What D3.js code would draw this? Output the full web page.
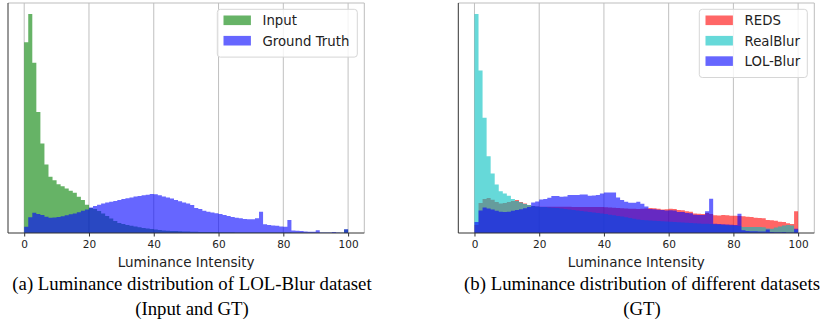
<!DOCTYPE html>
<html>
<head>
<meta charset="UTF-8">
<title>Luminance histograms</title>
<style>
  body { margin: 0; background: #fff; }
  svg text { font-family: "DejaVu Sans", sans-serif; }
  .cap { font-family: "Liberation Serif", "Times New Roman", serif; }
</style>
</head>
<body>
<div id="app"></div>
<script src="https://d3js.org/d3.v7.min.js"></script>
<script>
// 80 bins over 0..100 (bin width 1.25), heights in arbitrary units
const binCount = 80
const xTicks = [0, 20, 40, 60, 80, 100]

const inputLOL = [191.3, 219.7, 170.7, 121.3, 89.7, 68.7, 56.3, 53, 49, 47, 44.7, 42.3, 40.3, 36.3, 33, 28.3,
  25, 24, 22, 19.5, 17, 14.5, 12, 10, 9, 8, 7.3, 6.5, 5.8, 5, 4.5, 4, 3.5, 3, 2.6, 2.3, 2.1, 1.9, 1.7, 1.5,
  1.4, 1.3, 1.2, 1.1, 1.0, 1.0, 0.9, 0.9, 0.8, 0.8, 0.7, 0.7, 0.6, 0.6, 0.6, 0.5, 0.5, 0.5, 0.6, 0.4,
  0.4, 0.4, 0.4, 0.4, 0.4, 0.5, 0.3, 0.3, 0.3, 0.3, 0.3, 0.3, 0.3, 0.3, 0.3, 0.3, 0.3, 0.3, 0.3, 3.5]

const gtLOL = [6.3, 15.7, 20.3, 19, 18, 16.3, 15.2, 15.5, 16, 16.7, 17.7, 18.7, 19.5, 20.7, 22.3, 23.5,
  25.7, 27, 28.3, 29.5, 30.5, 31.3, 32.2, 33, 34, 34.8, 35.5, 36.5, 37.2, 37.8, 38.3, 39, 38.8, 37.8, 36.5, 35.7, 34.5, 33, 31.8, 30.5,
  29.7, 28, 25, 24, 22.3, 21.3, 20.5, 19.7, 19, 18, 17, 16, 15.3, 14.7, 14, 13.7, 13.7, 14.7, 21.3, 8.7,
  8, 7.5, 7.2, 6.5, 6.3, 13, 2.5, 2.3, 2, 1.5, 1.3, 1.3, 2.7, 0.5, 0.4, 0.4, 1, 0.4, 0.3, 3.7]

const reds = [8, 30, 34, 35, 33.3, 31, 29.5, 30, 31, 32, 33, 31, 29.5, 28, 27, 26.5,
  26.3, 26.3, 26.4, 26.4, 26.4, 26.3, 26.3, 26.3, 26.2, 26.2, 26.2, 26.1, 26.1, 26, 26, 26, 25.8, 25.5, 25.3, 25, 24.8, 24.6, 24.4, 24.2,
  24, 24.3, 24.5, 25, 24.7, 24.3, 23.5, 23.7, 24.3, 24, 23, 22.7, 21.7, 21.3, 19.5, 19.3, 19, 20, 19, 17.7,
  17.5, 18, 17.7, 17.3, 17.3, 17, 16.7, 16.3, 16, 15.3, 15, 14.7, 13, 12.7, 12.3, 11.3, 11, 9.7, 9, 21.7]

const realBlur = [219.7, 163, 115.7, 77, 59.7, 48.7, 42, 39.7, 37.3, 34, 32, 30.7, 29, 28, 27, 26.5,
  26.2, 26, 25.7, 25.3, 25, 24.5, 24, 23.5, 23, 22.5, 22, 21.5, 21, 20.5, 20, 19.5, 19, 18.3, 17.7, 17, 16.5, 15.8, 15, 14.3,
  13.5, 13, 12.7, 12.5, 12.3, 12, 11.8, 11.5, 11.3, 11, 10.8, 10.5, 10.3, 10, 9.8, 9.6, 9.4, 9.2, 9, 8.5,
  8.3, 8, 7.8, 7.5, 7.3, 7, 6, 6, 6, 6, 6, 5.8, 4.5, 4.3, 5.5, 6.5, 7.5, 8, 7.5, 3]

const lolBlur = [11, 22.5, 25.5, 24.5, 23.5, 22.2, 21.2, 21, 21.3, 22.2, 23, 23.7, 24.7, 26, 30.5, 31.7,
  33.5, 34, 35.3, 37, 37, 36.3, 36.5, 38, 38, 38.2, 38.7, 38.5, 37.3, 37.5, 38, 39.7, 40.5, 40.7, 40.7, 35.7, 33, 31.3, 30.3, 30.3,
  31.3, 29.3, 26.7, 24, 23.7, 23.3, 23, 22.5, 22.7, 22.5, 21, 21, 20, 19.8, 18.3, 18, 18, 21.7, 34.3, 9.3,
  9, 8.8, 8.5, 8.3, 8, 19.3, 2.7, 2, 1.7, 1.7, 1.5, 1.5, 3.5, 1, 0.8, 0.7, 1, 0.5, 0.5, 4.3]

const W = 822
const H = 330
const plotTop = 3
const plotBottom = 233

const panels = [
  {
    left: 8, right: 364.3,
    series: [
      { name: 'Input', values: inputLOL, color: 'rgb(0,128,0)' },
      { name: 'Ground Truth', values: gtLOL, color: 'rgb(0,0,255)' }
    ],
    legend: { x: 217.3, y: 9.3, w: 140 },
    caption: ['(a) Luminance distribution of LOL-Blur dataset', '(Input and GT)'],
    capX: 192
  },
  {
    left: 458.3, right: 814.3,
    series: [
      { name: 'REDS', values: reds, color: 'rgb(255,0,0)' },
      { name: 'RealBlur', values: realBlur, color: 'rgb(0,191,191)' },
      { name: 'LOL-Blur', values: lolBlur, color: 'rgb(0,0,255)' }
    ],
    legend: { x: 699.3, y: 9.3, w: 108 },
    caption: ['(b) Luminance distribution of different datasets', '(GT)'],
    capX: 642
  }
]

const svg = d3.select('#app').append('svg')
  .attr('width', W)
  .attr('height', H)

const binW = 100 / binCount

panels.forEach(p => {
  let x = d3.scaleLinear().domain([-5, 105]).range([p.left, p.right])
  let ymax = d3.max(p.series, s => d3.max(s.values)) * 1.05
  let y = d3.scaleLinear().domain([0, ymax]).range([plotBottom, plotTop])

  let g = svg.append('g')

  // vertical grid
  g.selectAll('line.grid').data(xTicks).enter()
    .append('line')
    .attr('x1', d => x(d)).attr('x2', d => x(d))
    .attr('y1', plotTop).attr('y2', plotBottom)
    .attr('stroke', '#b0b0b0').attr('stroke-opacity', 0.8)
    .attr('stroke-width', 1)

  // histograms as stepped areas
  let area = d3.area()
    .curve(d3.curveStepAfter)
    .x(d => x(d.x0))
    .y0(y(0))
    .y1(d => y(d.v))

  p.series.forEach(s => {
    let pts = s.values.map((v, i) => ({ x0: i * binW, v: v }))
    pts.push({ x0: 100, v: s.values[s.values.length - 1] })
    g.append('path')
      .attr('d', area(pts))
      .attr('fill', s.color)
      .attr('fill-opacity', 0.6)
  })

  // spines
  g.append('line').attr('x1', p.left).attr('x2', p.right).attr('y1', plotTop).attr('y2', plotTop)
    .attr('stroke', '#bdbdbd').attr('stroke-width', 1)
  g.append('line').attr('x1', p.right).attr('x2', p.right).attr('y1', plotTop).attr('y2', plotBottom)
    .attr('stroke', '#bdbdbd').attr('stroke-width', 1)
  g.append('line').attr('x1', p.left).attr('x2', p.left).attr('y1', plotTop).attr('y2', plotBottom)
    .attr('stroke', '#333').attr('stroke-width', 1)

  // x axis
  let ax = g.append('g')
    .attr('transform', 'translate(0,' + plotBottom + ')')
    .call(d3.axisBottom(x).tickValues(xTicks).tickSize(3.5).tickPadding(4.5))
  ax.select('.domain').attr('stroke', '#333').attr('d', 'M' + p.left + ',0H' + p.right)
  ax.selectAll('.tick line').attr('stroke', '#333')
  ax.selectAll('.tick text')
    .attr('font-family', '"DejaVu Sans", sans-serif')
    .attr('font-size', 10.5).attr('fill', '#222')

  let cx = (x(0) + x(100)) / 2
  g.append('text')
    .attr('x', cx).attr('y', 266.5)
    .attr('text-anchor', 'middle')
    .attr('font-size', 13.5).attr('fill', '#222')
    .text('Luminance Intensity')

  // legend
  let L = p.legend
  let rowH = 20.4
  let lg = g.append('g')
  lg.append('rect')
    .attr('x', L.x).attr('y', L.y)
    .attr('width', L.w).attr('height', 10.6 + rowH * p.series.length - 3.6)
    .attr('rx', 3)
    .attr('fill', '#fff').attr('fill-opacity', 0.8)
    .attr('stroke', '#d6d6d6').attr('stroke-width', 1)
  p.series.forEach((s, i) => {
    let cy = L.y + 11 + rowH * i
    lg.append('rect')
      .attr('x', L.x + 6.2).attr('y', cy - 4.8)
      .attr('width', 27.4).attr('height', 9.6)
      .attr('fill', s.color).attr('fill-opacity', 0.6)
    lg.append('text')
      .attr('x', L.x + 45.2).attr('y', cy + 4.8)
      .attr('font-size', 13.3).attr('fill', '#222')
      .text(s.name)
  })

  // caption
  p.caption.forEach((c, i) => {
    svg.append('text')
      .attr('class', 'cap')
      .attr('x', p.capX).attr('y', 289.5 + i * 25.5)
      .attr('text-anchor', 'middle')
      .attr('font-size', 18.8).attr('fill', '#000')
      .text(c)
  })
})
</script>
</body>
</html>
